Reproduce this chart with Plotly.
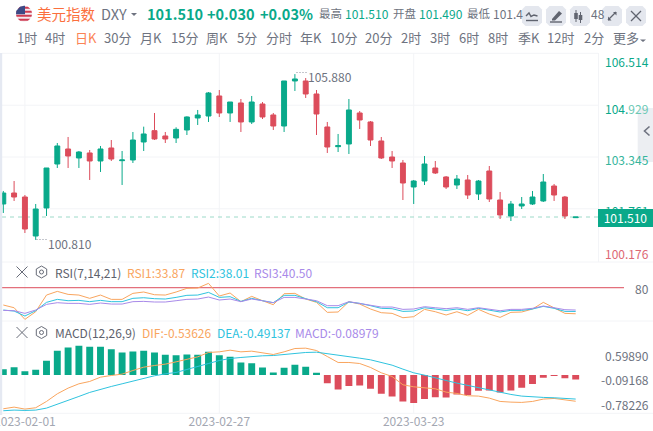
import math
import plotly.graph_objects as go

W, H = 653, 431
dates = ["2023-01-30","2023-01-31","2023-02-01","2023-02-02","2023-02-03","2023-02-06","2023-02-07","2023-02-08","2023-02-09","2023-02-10",
         "2023-02-13","2023-02-14","2023-02-15","2023-02-16","2023-02-17","2023-02-20","2023-02-21","2023-02-22","2023-02-23","2023-02-24",
         "2023-02-27","2023-02-28","2023-03-01","2023-03-02","2023-03-03","2023-03-06","2023-03-07","2023-03-08","2023-03-09","2023-03-10",
         "2023-03-13","2023-03-14","2023-03-15","2023-03-16","2023-03-17","2023-03-20","2023-03-21","2023-03-22","2023-03-23","2023-03-24",
         "2023-03-27","2023-03-28","2023-03-29","2023-03-30","2023-03-31","2023-04-03","2023-04-04","2023-04-05","2023-04-06","2023-04-07",
         "2023-04-10","2023-04-11","2023-04-12","2023-04-13"]
opens = [101.908,102.244,102.122,100.929,101.786,103.131,103.590,103.315,103.468,103.223,
         103.621,103.233,103.254,103.804,104.151,103.988,103.926,104.171,104.538,104.599,
         105.211,104.691,104.997,104.416,104.966,104.630,104.293,105.670,105.670,105.272,
         104.263,103.661,103.743,104.691,104.416,103.835,103.345,103.162,102.428,102.611,
         103.009,102.734,102.489,102.642,102.214,102.917,102.030,101.541,101.847,101.908,
         102.000,102.458,102.122,101.490]
closes = [102.244,102.122,101.143,101.755,103.009,103.682,103.376,103.498,103.223,103.590,
          103.284,103.254,103.865,104.049,103.896,103.896,104.191,104.569,104.630,105.303,
          104.691,105.027,104.416,105.027,104.569,104.293,105.670,105.731,105.272,104.660,
          103.651,103.692,104.783,104.477,103.865,103.315,103.223,102.550,102.611,103.131,
          102.856,102.428,102.672,102.183,102.611,102.061,101.572,101.908,101.908,102.122,
          102.581,102.183,101.541,101.510]
highs = [102.306,102.611,102.183,101.908,103.009,103.773,103.957,103.529,103.559,103.682,
         103.865,103.529,104.110,104.273,104.691,104.110,104.253,104.589,104.783,105.333,
         105.394,105.027,105.119,105.211,105.027,104.691,105.670,105.880,105.761,105.394,
         104.416,104.049,105.119,104.752,104.446,103.957,103.529,103.254,102.642,103.376,
         103.223,102.764,102.795,102.795,102.642,103.070,102.275,102.000,102.122,102.306,
         102.825,102.520,102.153,101.510]
lows = [101.633,102.000,101.021,100.810,101.541,103.009,103.009,103.009,102.642,102.887,
        103.223,102.489,103.162,103.529,103.865,103.773,103.773,104.018,104.324,104.416,
        104.569,104.416,104.110,104.354,104.507,104.171,104.110,105.364,105.150,104.018,
        103.468,103.498,103.437,104.202,103.682,103.284,103.009,102.030,101.908,102.489,
        102.825,102.367,102.367,102.061,102.030,101.969,101.449,101.388,101.755,101.877,
        101.969,102.000,101.449,101.490]
rsi1 = [49.4,44.6,24.0,37.5,67.0,73.5,68.2,67.0,61.2,67.0,59.4,59.4,70.0,72.4,67.6,67.0,72.4,78.9,79.4,87.7,
        65.3,70.6,55.3,64.7,57.0,49.9,69.4,70.0,60.0,54.1,36.4,37.0,55.3,51.1,42.3,35.8,34.6,26.9,28.7,41.7,
        37.5,31.7,37.5,31.1,41.7,33.4,27.5,36.4,37.0,42.3,54.1,44.6,34.6,33.87]
rsi2 = [40.5,38.7,29.9,39.3,54.1,59.4,57.0,57.6,55.3,57.6,55.3,55.3,61.2,62.3,60.6,60.0,62.9,66.5,67.0,71.8,
        62.9,64.1,55.8,61.2,57.0,53.5,66.5,66.5,60.6,55.3,44.6,44.6,54.7,52.3,48.2,43.5,42.9,38.1,38.7,44.6,
        42.3,39.9,42.3,39.3,43.5,40.5,37.0,39.9,39.9,42.3,47.0,43.5,38.1,38.01]
rsi3 = [39.9,39.3,34.6,40.5,50.5,53.5,52.3,52.3,50.5,52.9,51.1,51.1,55.3,55.8,54.7,54.7,57.0,59.4,60.0,63.5,
        58.2,60.0,55.3,60.0,57.0,53.5,62.9,62.9,60.0,57.0,48.2,48.2,55.3,52.3,49.4,45.8,45.8,41.7,42.3,46.4,
        44.6,42.9,44.6,41.7,44.6,42.3,39.3,41.7,41.7,43.5,47.6,44.6,41.1,40.50]
dif = [-0.690,-0.656,-0.696,-0.669,-0.540,-0.384,-0.268,-0.180,-0.132,-0.044,-0.010,0.018,0.092,0.160,0.194,0.222,0.269,0.317,0.371,0.460,
       0.473,0.507,0.473,0.487,0.460,0.419,0.473,0.541,0.548,0.500,0.378,0.256,0.256,0.235,0.154,0.045,-0.030,-0.200,-0.241,-0.261,
       -0.282,-0.350,-0.377,-0.424,-0.431,-0.472,-0.540,-0.554,-0.560,-0.540,-0.492,-0.479,-0.506,-0.53626]
dea = [-0.730,-0.717,-0.724,-0.717,-0.676,-0.601,-0.520,-0.438,-0.356,-0.288,-0.234,-0.180,-0.125,-0.071,-0.016,0.024,0.052,0.113,0.167,0.235,
       0.296,0.337,0.358,0.378,0.392,0.398,0.419,0.446,0.460,0.466,0.439,0.398,0.371,0.344,0.310,0.256,0.201,0.120,0.045,-0.003,
       -0.064,-0.112,-0.166,-0.214,-0.261,-0.302,-0.350,-0.397,-0.431,-0.452,-0.458,-0.465,-0.472,-0.49137]
macd = [0.120,0.160,0.079,0.106,0.290,0.494,0.562,0.5989,0.575,0.575,0.528,0.460,0.480,0.494,0.460,0.412,0.405,0.419,0.412,0.473,
        0.405,0.371,0.256,0.242,0.154,0.052,0.147,0.208,0.167,0.045,-0.166,-0.295,-0.227,-0.214,-0.282,-0.384,-0.438,-0.540,-0.574,-0.492,
        -0.452,-0.458,-0.397,-0.411,-0.322,-0.316,-0.356,-0.316,-0.261,-0.186,-0.057,-0.016,-0.064,-0.08979]
price_labels = ["106.514","104.929","103.345","101.761","100.176"]
price_ticks = [106.514,104.929,103.345,101.761,100.176]
date_ticks = ["2023-02-01","2023-02-27","2023-03-23"]
periods = ["1时","4时","日K","30分","月K","15分","周K","5分","分时","年K","10分","20分","2时","3时","6时","8时","季K","12时","2分","更多"]
period_x = [17,45,75,104,140,171,206,237,266,300,330,365,401,430,459,488,518,547,584,613]

GREEN, RED = "#09a98a", "#dc4c5b"
GRAY, LGRAY, GRID = "#6e7380", "#a3a7b2", "#f3f4f7"
ORANGE, CYAN, PURPLE = "#f9a55e", "#2fc3de", "#a88ae9"
FONT = "Noto Sans CJK SC"

def px(x): return x / W
def py(y): return 1 - y / H

fig = go.Figure()
X_DOM = [px(2), px(598)]
X_RANGE = [(2 - 3.3) / 10.8, (598 - 3.3) / 10.8]
fig.add_trace(go.Candlestick(x=dates, open=opens, high=highs, low=lows, close=closes, xaxis="x", yaxis="y",
    increasing=dict(line=dict(color=GREEN, width=1), fillcolor=GREEN),
    decreasing=dict(line=dict(color=RED, width=1), fillcolor=RED),
    whiskerwidth=0, hoverinfo="skip"))
for vals, c in ((rsi1, ORANGE), (rsi2, CYAN), (rsi3, PURPLE)):
    fig.add_trace(go.Scatter(x=dates, y=vals, mode="lines", line=dict(color=c, width=1), xaxis="x2", yaxis="y2", hoverinfo="skip"))
fig.add_trace(go.Bar(x=dates, y=macd, marker=dict(color=[GREEN if v >= 0 else RED for v in macd], line=dict(width=0)),
                     xaxis="x3", yaxis="y3", hoverinfo="skip"))
for vals, c in ((dif, ORANGE), (dea, CYAN)):
    fig.add_trace(go.Scatter(x=dates, y=vals, mode="lines", line=dict(color=c, width=1), xaxis="x3", yaxis="y3", hoverinfo="skip"))

shapes = []
def rect(x0, y0, x1, y1, fill, layer="below", line=None):
    shapes.append(dict(type="rect", xref="paper", yref="paper", x0=px(x0), x1=px(x1), y0=py(y0), y1=py(y1),
                       fillcolor=fill, line=dict(width=0) if line is None else line, layer=layer))
def seg(x0, y0, x1, y1, color, width=1, dash="solid", layer="above"):
    shapes.append(dict(type="line", xref="paper", yref="paper", x0=px(x0), x1=px(x1), y0=py(y0), y1=py(y1),
                       line=dict(color=color, width=width, dash=dash), layer=layer))
def poly(points, fill=None, color=None, width=1.2, close=True, layer="above"):
    d = "M" + " L".join(f"{px(a):.5f},{py(b):.5f}" for a, b in points) + (" Z" if close else "")
    shapes.append(dict(type="path", xref="paper", yref="paper", path=d, fillcolor=fill or "rgba(0,0,0,0)",
                       line=dict(color=color or "rgba(0,0,0,0)", width=width if color else 0), layer=layer))
def rrect(x0, y0, x1, y1, r, fill):
    k = [(x0+r,y0),(x1-r,y0),(x1,y0+r),(x1,y1-r),(x1-r,y1),(x0+r,y1),(x0,y1-r),(x0,y0+r)]
    poly(k, fill=fill)

# frame lines
for y in (53.3, 262, 321, 413.3):
    seg(2, y, 653 if y != 53.3 else 598, y, GRID, layer="below")
seg(598.5, 53, 598.5, 262, GRID, layer="below")
for t in price_ticks[1:4]:
    shapes.append(dict(type="line", xref="paper", yref="y", x0=px(2), x1=px(598), y0=t, y1=t, line=dict(color=GRID, width=1), layer="below"))
for t in date_ticks:
    for xr in ("x", "x2", "x3"):
        dom = {"x": "y domain", "x2": "y2 domain", "x3": "y3 domain"}[xr]
        shapes.append(dict(type="line", xref=xr, yref=dom, x0=t, x1=t, y0=0, y1=1, line=dict(color=GRID, width=1), layer="below"))
# last price dashed line
shapes.append(dict(type="line", xref="paper", yref="y", x0=px(2), x1=px(598), y0=closes[-1], y1=closes[-1],
                   line=dict(color="#9ddac9", width=1, dash="4px,4px"), layer="below"))
# RSI 80 line
shapes.append(dict(type="line", xref="paper", yref="y2", x0=px(2), x1=px(624), y0=80, y1=80, line=dict(color=RED, width=1), layer="below"))
# high / low dotted leaders
seg(296.5, 72.5, 307, 72.5, "#8a8f9c", dash="1px,2px")
seg(36.5, 239.5, 47, 239.5, "#8a8f9c", dash="1px,2px")
# left strip
rect(0, 53, 2.2, 415, "#e5e9f2", layer="above")

# flag
cx, cy, r = 24, 13.8, 8
shapes.append(dict(type="circle", xref="paper", yref="paper", x0=px(cx-r), x1=px(cx+r), y0=py(cy-r), y1=py(cy+r),
                   fillcolor="#f4e9ee", line=dict(width=0), layer="above"))
for i in range(4):
    y0 = cy - r + 1 + i * 4
    y1 = y0 + 2
    hw0 = math.sqrt(max(r*r - (y0-cy)**2, 0)); hw1 = math.sqrt(max(r*r - (y1-cy)**2, 0))
    poly([(cx-hw0,y0),(cx+hw0,y0),(cx+hw1,y1),(cx-hw1,y1)], fill="#cf3b52")
hw0 = math.sqrt(r*r - 49)
poly([(cx-hw0,cy-7),(cx,cy-8),(cx+1,cy-8),(cx+1,cy+0.5),(cx-8,cy+0.5),(cx-7.6,cy-3)], fill="#3c4a86")

# toolbar buttons
for x0 in (522, 546, 570, 602, 626):
    rrect(x0, 6, x0 + 20, 26, 3.5, "#e4e7ee")
ic = "#60646f"
poly([(526,16),(529,13),(531,16.5),(534,15),(537.5,16)], color=ic, close=False, width=1.4)
seg(526, 20.5, 538, 20.5, ic, 1.4)
poly([(552,19),(559,11),(562,13.5),(555,20.5),(552,20.5)], fill=ic)
seg(550, 22, 562, 22, ic, 1.4)
for xc, a, b, c, d in ((576,10,13,19,22),(580.5,12,15,20,23),):
    seg(xc, a, xc, d, ic, 1); rect(xc-1.8, b, xc+1.8, c, ic, layer="above")
seg(608, 20, 616, 12, ic, 1.2)
poly([(613,12),(616.5,12),(616.5,15.5)], fill=ic); poly([(608,16.5),(608,20.5),(611.5,20.5)], fill=ic)
seg(631, 11, 641, 21, ic, 1.3); seg(641, 11, 631, 21, ic, 1.3)
# carets
poly([(131,13),(137,13),(134,16)], fill=GRAY)
poly([(640,39.5),(646,39.5),(643,42)], fill=GRAY)
# side tab
poly([(641,108),(653,108),(653,162),(641,162),(637.7,158),(637.7,112)], fill="#eceef2", layer="below")
poly([(649.5,126.5),(644.5,131),(649.5,135.5)], color="#6f7380", close=False, width=1.6)
# panel icons
for yc in (272, 332.5):
    seg(16.5, yc-5.5, 27.5, yc+5.5, "#686c78", 1); seg(27.5, yc-5.5, 16.5, yc+5.5, "#686c78", 1)
    hexp = [(41.5+6*math.sin(k*math.pi/3), yc-6*math.cos(k*math.pi/3)) for k in range(6)]
    poly(hexp, color="#686c78", width=1)
    shapes.append(dict(type="circle", xref="paper", yref="paper", x0=px(39.5), x1=px(43.5), y0=py(yc-2), y1=py(yc+2),
                       line=dict(color="#686c78", width=1), layer="above"))

ann = []
def txt(x, y, s, size=12, color=GRAY, anchor="left", **kw):
    a = dict(xref="paper", yref="paper", x=px(x), y=py(y), text=s, showarrow=False, xanchor=anchor, yanchor="middle",
             font=dict(family=FONT, size=size, color=color), borderpad=0, borderwidth=0)
    a.update(kw)
    ann.append(a)

# header
txt(36.5, 13, "美元指数", 14.5, "#fb6f3d")
txt(100.5, 13, "DXY", 14.5, GRAY)
txt(147, 13, "<b>101.510</b>", 14.5, GREEN)
txt(207.5, 13, "<b>+0.030</b>", 14.5, GREEN)
txt(260, 13, "<b>+0.03%</b>", 14.5, GREEN)
txt(319, 13.5, "最高", 11.5, GRAY)
txt(345, 13.5, "101.510", 12, GREEN)
txt(393, 13.5, "开盘", 11.5, GRAY)
txt(419, 13.5, "101.490", 12, GREEN)
txt(467, 13.5, "最低", 11.5, GRAY)
txt(493.5, 13.5, "101.4", 12, GRAY)
txt(591, 13.5, "48", 12, GRAY)
for p, x in zip(periods, period_x):
    txt(x, 38, p, 13, "#fb8355" if p == "日K" else GRAY)

# price axis
cols = [GREEN, GREEN, "#35b59c", GREEN, "#dd6773"]
offs = [8.5, 3, 2, 2, -7.5]
for lab, t, c, o in zip(price_labels, price_ticks, cols, offs):
    yp = 208.8 + (101.761 - t) * 32.7 + o
    s = lab if lab != "104.929" else '104.<span style="color:#6cc9b5">929</span>'
    txt(604.5, yp, s, 12, c)
txt(625.5, 218, "101.510", 12, "#ffffff", anchor="center", bgcolor=GREEN, width=55, height=17.5)
txt(307.5, 76.5, f"{max(highs):.3f}", 12, GRAY)
txt(48, 243.5, f"{min(lows):.3f}", 12, GRAY)

# indicator headers
txt(55, 272, "RSI(7,14,21)", 12, "#5d616c")
txt(127, 272, "RSI1:33.87", 12, ORANGE)
txt(190.5, 272, "RSI2:38.01", 12, CYAN)
txt(254, 272, "RSI3:40.50", 12, PURPLE)
txt(55, 332.5, "MACD(12,26,9)", 12, "#5d616c")
txt(141.5, 332.5, "DIF:-0.53626", 12, ORANGE)
txt(216.5, 332.5, "DEA:-0.49137", 12, CYAN)
txt(295, 332.5, "MACD:-0.08979", 12, PURPLE)
txt(649, 288, "80", 12, GRAY, anchor="right")
txt(648.5, 355.5, "0.59890", 12, GRAY, anchor="right")
txt(648.5, 379.5, "-0.09168", 12, GRAY, anchor="right")
txt(648.5, 404, "-0.78226", 12, GRAY, anchor="right")

hidden = dict(showgrid=False, zeroline=False, showticklabels=False, ticks="", showline=False, fixedrange=True, automargin=False)
xbase = dict(type="category", categoryorder="array", categoryarray=dates, range=X_RANGE, domain=X_DOM, rangeslider=dict(visible=False))
fig.update_layout(
    width=W, height=H, margin=dict(l=0, r=0, t=0, b=0, pad=0), autosize=False,
    paper_bgcolor="#ffffff", plot_bgcolor="rgba(0,0,0,0)", showlegend=False, boxgap=0.35, bargap=0.36,
    font=dict(family=FONT, size=12, color=GRAY), shapes=shapes, annotations=ann, hovermode=False,
    xaxis=dict(**xbase, **hidden, anchor="y"),
    xaxis2=dict(**xbase, **hidden, anchor="y2"),
    xaxis3=dict(**xbase, zeroline=False, showgrid=False, showline=False, ticks="", tickmode="array", automargin=False,
                tickvals=date_ticks, ticktext=date_ticks, tickfont=dict(family=FONT, size=12, color=LGRAY), anchor="y3", fixedrange=True),
    yaxis=dict(**hidden, domain=[py(262), py(53)], range=[101.761 - (262 - 208.8) / 32.7, 101.761 + (208.8 - 53) / 32.7], anchor="x"),
    yaxis2=dict(**hidden, domain=[py(321), py(262)], range=[21.1, 125.5], anchor="x2"),
    yaxis3=dict(**hidden, domain=[py(413.3), py(321)], range=[-0.78226, 1.103], anchor="x3"),
)
fig.write_html("out.html", config=dict(displayModeBar=False), post_script="document.body.style.margin='0';")
